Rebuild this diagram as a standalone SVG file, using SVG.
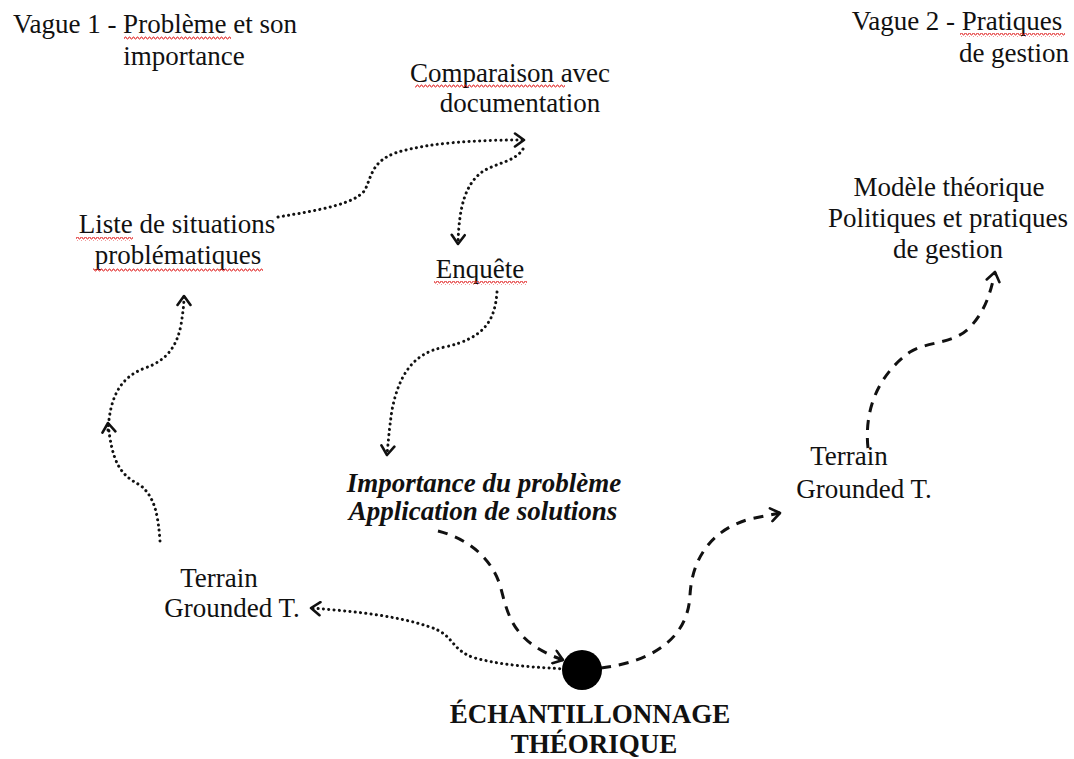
<svg xmlns="http://www.w3.org/2000/svg" width="1074" height="759" viewBox="0 0 1074 759">
<style>
  .dot { fill: none; stroke: #111; stroke-width: 3; stroke-linecap: round; stroke-dasharray: 0.1 5.2; }
  .dash { fill: none; stroke: #111; stroke-width: 3; stroke-dasharray: 10 8; }
  .sq { fill: url(#squig); }
</style>
<defs>
  <marker id="ah" markerWidth="14" markerHeight="16" refX="11" refY="8" orient="auto" markerUnits="userSpaceOnUse">
    <path d="M2,1.5 L11,8 L2,14.5" fill="none" stroke="#111" stroke-width="2.6" stroke-linecap="round" stroke-linejoin="round"/>
  </marker>
  <pattern id="squig" width="4" height="4" patternUnits="userSpaceOnUse">
    <polyline points="0,3 1,1 2,1 3,3 4,3" fill="none" stroke="#e02020" stroke-width="0.9"/>
  </pattern>
</defs>
<rect width="1074" height="759" fill="#fff"/>

<g id="connectors">
  <path class="dot" marker-end="url(#ah)" d="M278,217 C320,210 355,204 365,190 C372,175 372,162 395,153 C430,142 480,140 524,140"/>
  <path class="dot" marker-end="url(#ah)" d="M523,149 C515,162 495,163 482,172 C466,184 459,205 458,244"/>
  <path class="dot" marker-end="url(#ah)" d="M497,292 C495,320 485,338 445,347 C410,353 398,380 392,410 C389,430 388,445 387,455"/>
  <path class="dot" marker-end="url(#ah)" d="M160,541 C158,515 155,497 140,485 C120,475 112,462 108,423"/>
  <path class="dot" marker-end="url(#ah)" d="M108,430 C110,400 118,378 145,368 C168,360 177,345 181,325 C183,312 184,305 184,296"/>
  <path class="dot" marker-end="url(#ah)" d="M565,669 C535,667 505,666 475,658 C450,650 455,635 430,627 C395,615 350,611 311,608"/>
  <path class="dash" marker-end="url(#ah)" d="M438,531 C465,538 490,555 500,585 C508,615 512,642 563,660"/>
  <path class="dash" marker-end="url(#ah)" d="M601,668 C650,662 688,640 690,595 C692,560 710,530 750,519 L780,513"/>
  <path class="dash" marker-end="url(#ah)" d="M868,448 C864,410 878,375 910,352 C930,340 955,345 972,325 C985,310 990,295 995,272"/>
</g>

<g id="n-vague1">
  <text style="font-family:'Liberation Serif',serif" font-size="27" fill="#111" text-anchor="middle" x="155" y="33">Vague 1 - Problème et son</text>
  <text style="font-family:'Liberation Serif',serif" font-size="27" fill="#111" text-anchor="middle" x="184" y="65">importance</text>
  <rect class="sq" x="124" y="36" width="107" height="4"/>
</g>
<g id="n-vague2">
  <text style="font-family:'Liberation Serif',serif" font-size="27" fill="#111" text-anchor="middle" x="957" y="30">Vague 2 - Pratiques</text>
  <text style="font-family:'Liberation Serif',serif" font-size="27" fill="#111" text-anchor="middle" x="1014" y="62">de gestion</text>
  <rect class="sq" x="960" y="33" width="105" height="4"/>
</g>
<g id="n-comparaison">
  <text style="font-family:'Liberation Serif',serif" font-size="27" fill="#111" text-anchor="middle" x="510" y="82">Comparaison avec</text>
  <text style="font-family:'Liberation Serif',serif" font-size="27" fill="#111" text-anchor="middle" x="520" y="112">documentation</text>
  <rect class="sq" x="415" y="84" width="150" height="4"/>
</g>
<g id="n-liste">
  <text style="font-family:'Liberation Serif',serif" font-size="27" fill="#111" text-anchor="middle" x="177" y="233">Liste de situations</text>
  <text style="font-family:'Liberation Serif',serif" font-size="27" fill="#111" text-anchor="middle" x="178" y="264">problématiques</text>
  <rect class="sq" x="76" y="237" width="57" height="4"/>
  <rect class="sq" x="93" y="268" width="170" height="4"/>
</g>
<g id="n-enquete">
  <text style="font-family:'Liberation Serif',serif" font-size="27" fill="#111" text-anchor="middle" x="480" y="278">Enquête</text>
  <rect class="sq" x="434" y="281" width="93" height="4"/>
</g>
<g id="n-importance">
  <text style="font-family:'Liberation Serif',serif" font-size="27" fill="#111" text-anchor="middle" font-weight="bold" font-style="italic" x="484" y="492">Importance du problème</text>
  <text style="font-family:'Liberation Serif',serif" font-size="27" fill="#111" text-anchor="middle" font-weight="bold" font-style="italic" x="483" y="520">Application de solutions</text>
</g>
<g id="n-modele">
  <text style="font-family:'Liberation Serif',serif" font-size="27" fill="#111" text-anchor="middle" x="949" y="196">Modèle théorique</text>
  <text style="font-family:'Liberation Serif',serif" font-size="27" fill="#111" text-anchor="middle" x="948" y="227">Politiques et pratiques</text>
  <text style="font-family:'Liberation Serif',serif" font-size="27" fill="#111" text-anchor="middle" x="948" y="258">de gestion</text>
</g>
<g id="n-terrain-left">
  <text style="font-family:'Liberation Serif',serif" font-size="27" fill="#111" text-anchor="middle" x="219" y="587">Terrain</text>
  <text style="font-family:'Liberation Serif',serif" font-size="27" fill="#111" text-anchor="middle" x="232" y="617">Grounded T.</text>
</g>
<g id="n-terrain-right">
  <text style="font-family:'Liberation Serif',serif" font-size="27" fill="#111" text-anchor="middle" x="849" y="465">Terrain</text>
  <text style="font-family:'Liberation Serif',serif" font-size="27" fill="#111" text-anchor="middle" x="864" y="498">Grounded T.</text>
</g>
<g id="n-echantillonnage">
  <circle cx="582" cy="670" r="20" fill="#000"/>
  <text style="font-family:'Liberation Serif',serif" font-size="27" fill="#111" text-anchor="middle" font-weight="bold" x="590" y="723">ÉCHANTILLONNAGE</text>
  <text style="font-family:'Liberation Serif',serif" font-size="27" fill="#111" text-anchor="middle" font-weight="bold" x="594" y="753">THÉORIQUE</text>
</g>
</svg>
